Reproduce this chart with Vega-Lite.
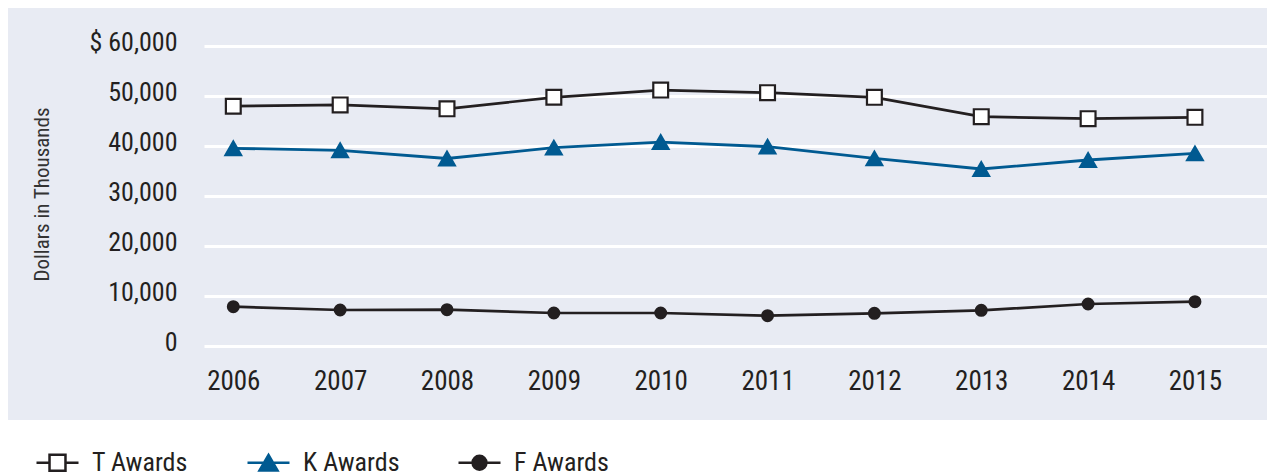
{
  "$schema": "https://vega.github.io/schema/vega-lite/v6.json",
  "width": 1259,
  "height": 412,
  "autosize": {"type": "none"},
  "padding": {"left": 8, "top": 8, "right": 0, "bottom": 56},
  "background": "white",
  "config": {
    "view": {"fill": "#e8ebf3", "stroke": null},
    "font": "Liberation Sans Narrow, Roboto Condensed, DejaVu Sans Condensed, Liberation Sans, sans-serif"
  },
  "data": {
    "values": [
      {"year": 2006, "series": "T Awards", "value": 47960},
      {"year": 2007, "series": "T Awards", "value": 48220},
      {"year": 2008, "series": "T Awards", "value": 47430},
      {"year": 2009, "series": "T Awards", "value": 49740},
      {"year": 2010, "series": "T Awards", "value": 51180},
      {"year": 2011, "series": "T Awards", "value": 50670},
      {"year": 2012, "series": "T Awards", "value": 49730},
      {"year": 2013, "series": "T Awards", "value": 45870},
      {"year": 2014, "series": "T Awards", "value": 45470},
      {"year": 2015, "series": "T Awards", "value": 45730},
      {"year": 2006, "series": "K Awards", "value": 39540},
      {"year": 2007, "series": "K Awards", "value": 39140},
      {"year": 2008, "series": "K Awards", "value": 37500},
      {"year": 2009, "series": "K Awards", "value": 39670},
      {"year": 2010, "series": "K Awards", "value": 40790},
      {"year": 2011, "series": "K Awards", "value": 39870},
      {"year": 2012, "series": "K Awards", "value": 37530},
      {"year": 2013, "series": "K Awards", "value": 35400},
      {"year": 2014, "series": "K Awards", "value": 37200},
      {"year": 2015, "series": "K Awards", "value": 38530},
      {"year": 2006, "series": "F Awards", "value": 7870},
      {"year": 2007, "series": "F Awards", "value": 7200},
      {"year": 2008, "series": "F Awards", "value": 7270},
      {"year": 2009, "series": "F Awards", "value": 6600},
      {"year": 2010, "series": "F Awards", "value": 6600},
      {"year": 2011, "series": "F Awards", "value": 6070},
      {"year": 2012, "series": "F Awards", "value": 6530},
      {"year": 2013, "series": "F Awards", "value": 7130},
      {"year": 2014, "series": "F Awards", "value": 8400},
      {"year": 2015, "series": "F Awards", "value": 8870}
    ]
  },
  "encoding": {
    "x": {
      "field": "year",
      "type": "quantitative",
      "scale": {"domain": [2003.8915, 2015.6743], "nice": false, "zero": false},
      "axis": {
        "title": null,
        "values": [2006, 2007, 2008, 2009, 2010, 2011, 2012, 2013, 2014, 2015],
        "format": "d",
        "offset": -74,
        "domain": false,
        "ticks": false,
        "grid": false,
        "labelFontSize": 27,
        "labelColor": "#231f20",
        "labelPadding": 22,
        "labelBaseline": "top"
      }
    },
    "y": {
      "field": "value",
      "type": "quantitative",
      "scale": {"domain": [-14800, 67600], "nice": false, "zero": false},
      "axis": {
        "title": "Dollars in Thousands",
        "titleFontSize": 21,
        "titleFontWeight": "normal",
        "titleColor": "#333333",
        "titleAngle": 270,
        "titleAlign": "center",
        "titleBaseline": "middle",
        "titleX": -162,
        "titleY": 186,
        "values": [0, 10000, 20000, 30000, 40000, 50000, 60000],
        "format": ",d",
        "labelExpr": "datum.value == 60000 ? '$ 60,000' : datum.label",
        "offset": -196,
        "domain": false,
        "grid": false,
        "ticks": true,
        "tickSize": -1063,
        "tickColor": "white",
        "tickWidth": 3,
        "labelPadding": 1090,
        "labelOffset": -4,
        "labelFontSize": 26,
        "labelColor": "#231f20",
        "zindex": 0
      }
    }
  },
  "layer": [
    {
      "transform": [{"filter": "datum.series !== 'K Awards'"}],
      "mark": {"type": "line", "strokeWidth": 2.7, "color": "#231f20"},
      "encoding": {"detail": {"field": "series", "type": "nominal"}}
    },
    {
      "transform": [{"filter": "datum.series === 'K Awards'"}],
      "mark": {"type": "line", "strokeWidth": 2.8, "color": "#005a91"},
      "encoding": {}
    },
    {
      "transform": [{"filter": "datum.series === 'T Awards'"}],
      "mark": {"type": "point", "shape": "square", "filled": true, "fill": "white", "stroke": "#231f20", "strokeWidth": 2.2, "size": 220, "opacity": 1},
      "encoding": {}
    },
    {
      "transform": [{"filter": "datum.series === 'K Awards'"}],
      "mark": {"type": "point", "shape": "triangle-up", "filled": true, "fill": "#005a91", "stroke": "#005a91", "strokeWidth": 2, "size": 256, "opacity": 1},
      "encoding": {}
    },
    {
      "transform": [{"filter": "datum.series === 'F Awards'"}],
      "mark": {"type": "point", "shape": "circle", "filled": true, "fill": "#231f20", "stroke": "#231f20", "strokeWidth": 2, "size": 120, "opacity": 1},
      "encoding": {}
    },
    {
      "transform": [{"filter": "datum.year === 2006"}],
      "mark": {"type": "point", "filled": true, "opacity": 0, "strokeWidth": 2.5},
      "encoding": {
        "shape": {
          "field": "series",
          "type": "nominal",
          "scale": {
            "domain": ["T Awards", "K Awards", "F Awards"],
            "range": [
              "M-1,0H-0.38M0.38,0H1M-0.38,-0.38H0.38V0.38H-0.38Z",
              "M-1,0H1M0,-0.37L0.43,0.37H-0.43Z",
              "M-1,0H-0.33M0.33,0H1M0.33,0A0.33,0.33,0,1,1,-0.33,0A0.33,0.33,0,1,1,0.33,0Z"
            ]
          },
          "legend": {
            "title": null,
            "orient": "none",
            "legendX": 27,
            "legendY": 432,
            "direction": "horizontal",
            "columns": 3,
            "gridAlign": "all",
            "columnPadding": 53,
            "padding": 0,
            "symbolSize": 1764,
            "symbolStrokeWidth": 2.5,
            "symbolOpacity": 1,
            "labelFontSize": 26,
            "labelColor": "#231f20",
            "labelOffset": 12,
            "labelLimit": 0
          }
        },
        "fill": {
          "field": "series",
          "type": "nominal",
          "scale": {"domain": ["T Awards", "K Awards", "F Awards"], "range": ["white", "#005a91", "#231f20"]}
        },
        "stroke": {
          "field": "series",
          "type": "nominal",
          "scale": {"domain": ["T Awards", "K Awards", "F Awards"], "range": ["#231f20", "#005a91", "#231f20"]}
        }
      }
    }
  ]
}
